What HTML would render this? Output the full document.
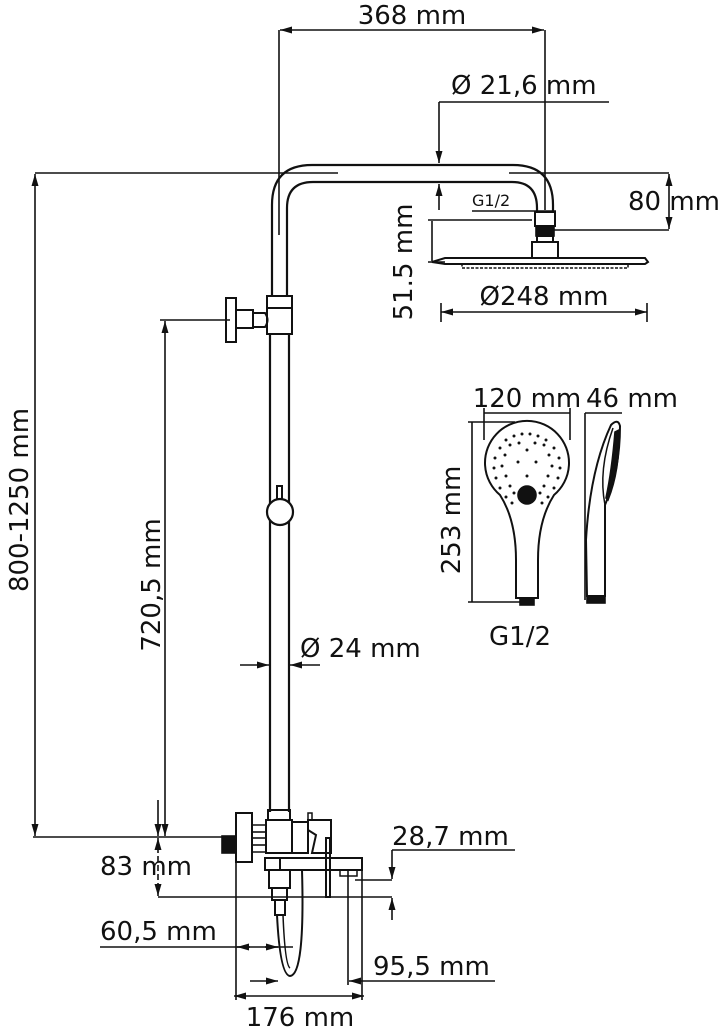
<!DOCTYPE html>
<html><head><meta charset="utf-8"><style>
html,body{margin:0;padding:0;background:#fff}
svg{display:block}
text{font-family:"DejaVu Sans","Liberation Sans",sans-serif;fill:#111}
</style></head><body>
<svg width="726" height="1029" viewBox="0 0 726 1029" xmlns="http://www.w3.org/2000/svg">
<defs>
<marker id="a" markerWidth="12" markerHeight="7" refX="12" refY="3.5" orient="auto-start-reverse" markerUnits="userSpaceOnUse"><path d="M0,0 L12,3.5 L0,7z" fill="#111"/></marker>
</defs>
<g stroke="#111" fill="none" stroke-width="1.6">
<line x1="279" y1="30" x2="279" y2="235"/>
<line x1="545" y1="30" x2="545" y2="210"/>
<line x1="280" y1="30" x2="544" y2="30" marker-start="url(#a)" marker-end="url(#a)"/>
<line x1="439" y1="102" x2="609" y2="102"/>
<line x1="439" y1="102" x2="439" y2="163" marker-end="url(#a)"/>
<line x1="439" y1="210" x2="439" y2="184" marker-end="url(#a)"/>
<line x1="35" y1="173" x2="338" y2="173"/>
<line x1="509" y1="173" x2="669" y2="173"/>
<line x1="35" y1="174" x2="35" y2="836" marker-start="url(#a)" marker-end="url(#a)"/>
<line x1="553" y1="230" x2="669" y2="230"/>
<line x1="669" y1="174" x2="669" y2="229" marker-start="url(#a)" marker-end="url(#a)"/>
<line x1="472" y1="211" x2="556" y2="211"/>
<line x1="428" y1="220" x2="532" y2="220"/>
<line x1="428" y1="262" x2="445" y2="262"/>
<line x1="432" y1="221" x2="432" y2="261"/>
<line x1="441" y1="312" x2="647" y2="312" marker-start="url(#a)" marker-end="url(#a)"/>
<line x1="441" y1="303" x2="441" y2="322"/>
<line x1="647" y1="303" x2="647" y2="322"/>
<g stroke-width="2.2">
<path d="M272,297 L272,205 Q272,165 312,165 L513,165 Q553,165 553,205 L553,212"/>
<path d="M287,297 L287,208 Q287,182 313,182 L512,182 Q537,182 537,208 L537,212"/>
<line x1="270" y1="334" x2="270" y2="812"/>
<line x1="289" y1="334" x2="289" y2="812"/>
</g>
<rect x="535" y="212" width="20" height="14" stroke-width="2"/>
<rect x="536" y="226" width="18" height="10" fill="#111"/>
<rect x="537" y="236" width="16" height="6" stroke-width="2"/>
<rect x="532" y="242" width="26" height="16" stroke-width="2"/>
<path d="M432,262 L445,258 L645,258 L648,262 L645,264 L445,264 Z" stroke-width="2"/>
<path d="M462,264 L628,264 L628,268 L462,268 Z" stroke-width="1.5" stroke-dasharray="3,1.5"/>
<line x1="160" y1="320" x2="230" y2="320"/>
<rect x="226" y="298" width="10" height="44" stroke-width="2"/>
<rect x="236" y="310" width="17" height="18" stroke-width="2"/>
<path d="M253,313 L265,313 Q270,320 265,327 L253,327 Z" stroke-width="2"/>
<rect x="267" y="296" width="25" height="38" stroke-width="2"/>
<line x1="267" y1="308" x2="292" y2="308" stroke-width="2"/>
<line x1="165" y1="321" x2="165" y2="836" marker-start="url(#a)" marker-end="url(#a)"/>
<rect x="277" y="486" width="5" height="13" stroke-width="2"/>
<circle cx="280" cy="512" r="13" fill="#fff" stroke-width="2.2"/>
<line x1="240" y1="665" x2="269" y2="665" marker-end="url(#a)"/>
<line x1="320" y1="665" x2="290" y2="665" marker-end="url(#a)"/>
<line x1="33" y1="837" x2="222" y2="837"/>
<rect x="222" y="836" width="14" height="17" fill="#111"/>
<rect x="236" y="813" width="16" height="49" stroke-width="2"/>
<rect x="252" y="825" width="14" height="27" stroke-width="1.5"/>
<line x1="252" y1="832" x2="266" y2="832"/><line x1="252" y1="838" x2="266" y2="838"/><line x1="252" y1="845" x2="266" y2="845"/>
<rect x="268" y="810" width="22" height="10" stroke-width="2"/>
<rect x="266" y="820" width="26" height="33" stroke-width="2"/>
<rect x="292" y="822" width="16" height="31" stroke-width="2"/>
<path d="M308,820 L331,820 L331,853 L312,853 L316,835 L308,830 Z" stroke-width="2"/>
<rect x="308" y="813" width="4" height="7" stroke-width="1.5"/>
<rect x="326" y="838" width="4" height="59" stroke-width="2"/>
<rect x="265" y="858" width="97" height="12" stroke-width="2"/>
<line x1="280" y1="858" x2="280" y2="870" stroke-width="2"/>
<rect x="340" y="870" width="17" height="6" stroke-width="1.5"/>
<rect x="269" y="870" width="21" height="18" stroke-width="2"/>
<rect x="272" y="888" width="15" height="12" stroke-width="2"/>
<rect x="275" y="900" width="10" height="15" stroke-width="2"/>
<path d="M277,915 Q280,975 290,976 Q305,975 302,870" stroke-width="2"/>
<path d="M283,915 Q285,965 290,968" stroke-width="1.5"/>
<line x1="158" y1="800" x2="158" y2="836" marker-end="url(#a)"/>
<line x1="158" y1="838" x2="158" y2="896" marker-start="url(#a)" marker-end="url(#a)" stroke-dasharray="6,3"/>
<line x1="158" y1="897" x2="392" y2="897"/>
<line x1="392" y1="850" x2="515" y2="850"/>
<line x1="392" y1="850" x2="392" y2="879" marker-end="url(#a)"/>
<line x1="355" y1="880" x2="392" y2="880"/>
<line x1="392" y1="920" x2="392" y2="898" marker-end="url(#a)"/>
<line x1="100" y1="947" x2="293" y2="947"/>
<line x1="250" y1="947" x2="237" y2="947" marker-end="url(#a)"/>
<line x1="265" y1="947" x2="278" y2="947" marker-end="url(#a)"/>
<line x1="250" y1="981" x2="278" y2="981" marker-end="url(#a)"/>
<line x1="495" y1="981" x2="349" y2="981" marker-end="url(#a)"/>
<line x1="236" y1="862" x2="236" y2="1000"/>
<line x1="362" y1="870" x2="362" y2="1000"/>
<line x1="348" y1="870" x2="348" y2="985"/>
<line x1="234" y1="996" x2="364" y2="996" marker-start="url(#a)" marker-end="url(#a)"/>
<line x1="484" y1="413" x2="570" y2="413"/>
<line x1="484" y1="408" x2="484" y2="440"/><line x1="570" y1="408" x2="570" y2="440"/>
<line x1="472" y1="422" x2="472" y2="602"/>
<line x1="468" y1="422" x2="515" y2="422"/>
<line x1="468" y1="602" x2="530" y2="602"/>
<path d="M516,598 L516,560 Q516,520 500,495 A42,42 0 1 1 554,495 Q538,520 538,560 L538,598 Z" stroke-width="2"/>
<rect x="520" y="598" width="14" height="7" fill="#111"/>
<circle cx="527" cy="495" r="9" fill="#111"/>
<line x1="585" y1="413" x2="622" y2="413"/>
<line x1="585" y1="413" x2="585" y2="600"/>
<path d="M587,596 L586,540 Q590,470 611,425 Q618,418 620,426 Q620,470 605,505 L605,596 Z" stroke-width="2"/>
<path d="M605,505 Q598,470 613,428" stroke-width="1.5"/>
<path d="M608,500 Q620,470 619,430 L615,432 Q612,470 606,498 Z" fill="#111"/>
<rect x="587" y="596" width="18" height="7" fill="#111"/>
</g>
<g fill="#111">
<circle cx="506" cy="440" r="1.5"/><circle cx="514" cy="436" r="1.5"/><circle cx="522" cy="434" r="1.5"/><circle cx="530" cy="434" r="1.5"/><circle cx="538" cy="436" r="1.5"/><circle cx="546" cy="440" r="1.5"/>
<circle cx="500" cy="448" r="1.5"/><circle cx="510" cy="445" r="1.5"/><circle cx="519" cy="443" r="1.5"/><circle cx="535" cy="443" r="1.5"/><circle cx="544" cy="445" r="1.5"/><circle cx="554" cy="448" r="1.5"/>
<circle cx="495" cy="458" r="1.5"/><circle cx="505" cy="455" r="1.5"/><circle cx="527" cy="450" r="1.5"/><circle cx="549" cy="455" r="1.5"/><circle cx="559" cy="458" r="1.5"/>
<circle cx="494" cy="468" r="1.5"/><circle cx="502" cy="466" r="1.5"/><circle cx="518" cy="462" r="1.5"/><circle cx="536" cy="462" r="1.5"/><circle cx="552" cy="466" r="1.5"/><circle cx="560" cy="468" r="1.5"/>
<circle cx="496" cy="478" r="1.5"/><circle cx="506" cy="476" r="1.5"/><circle cx="527" cy="476" r="1.5"/><circle cx="548" cy="476" r="1.5"/><circle cx="558" cy="478" r="1.5"/>
<circle cx="500" cy="488" r="1.5"/><circle cx="510" cy="486" r="1.5"/><circle cx="544" cy="486" r="1.5"/><circle cx="554" cy="488" r="1.5"/>
<circle cx="506" cy="497" r="1.5"/><circle cx="514" cy="493" r="1.5"/><circle cx="540" cy="493" r="1.5"/><circle cx="548" cy="497" r="1.5"/>
<circle cx="512" cy="503" r="1.5"/><circle cx="542" cy="503" r="1.5"/>
</g>
<g font-size="26">
<text x="412" y="24" text-anchor="middle">368 mm</text>
<text x="451" y="94">Ø 21,6 mm</text>
<text x="628" y="210">80 mm</text>
<text x="472" y="206" font-size="16">G1/2</text>
<text transform="translate(412,262) rotate(-90)" text-anchor="middle">51.5 mm</text>
<text x="544" y="305" text-anchor="middle">Ø248 mm</text>
<text transform="translate(28,500) rotate(-90)" text-anchor="middle">800-1250 mm</text>
<text transform="translate(160,585) rotate(-90)" text-anchor="middle">720,5 mm</text>
<text x="300" y="657">Ø 24 mm</text>
<text x="527" y="407" text-anchor="middle">120 mm</text>
<text x="632" y="407" text-anchor="middle">46 mm</text>
<text transform="translate(460,520) rotate(-90)" text-anchor="middle">253 mm</text>
<text x="520" y="645" text-anchor="middle">G1/2</text>
<text x="100" y="875">83 mm</text>
<text x="392" y="845">28,7 mm</text>
<text x="100" y="940">60,5 mm</text>
<text x="373" y="975">95,5 mm</text>
<text x="300" y="1026" text-anchor="middle">176 mm</text>
</g>
</svg>
</body></html>
